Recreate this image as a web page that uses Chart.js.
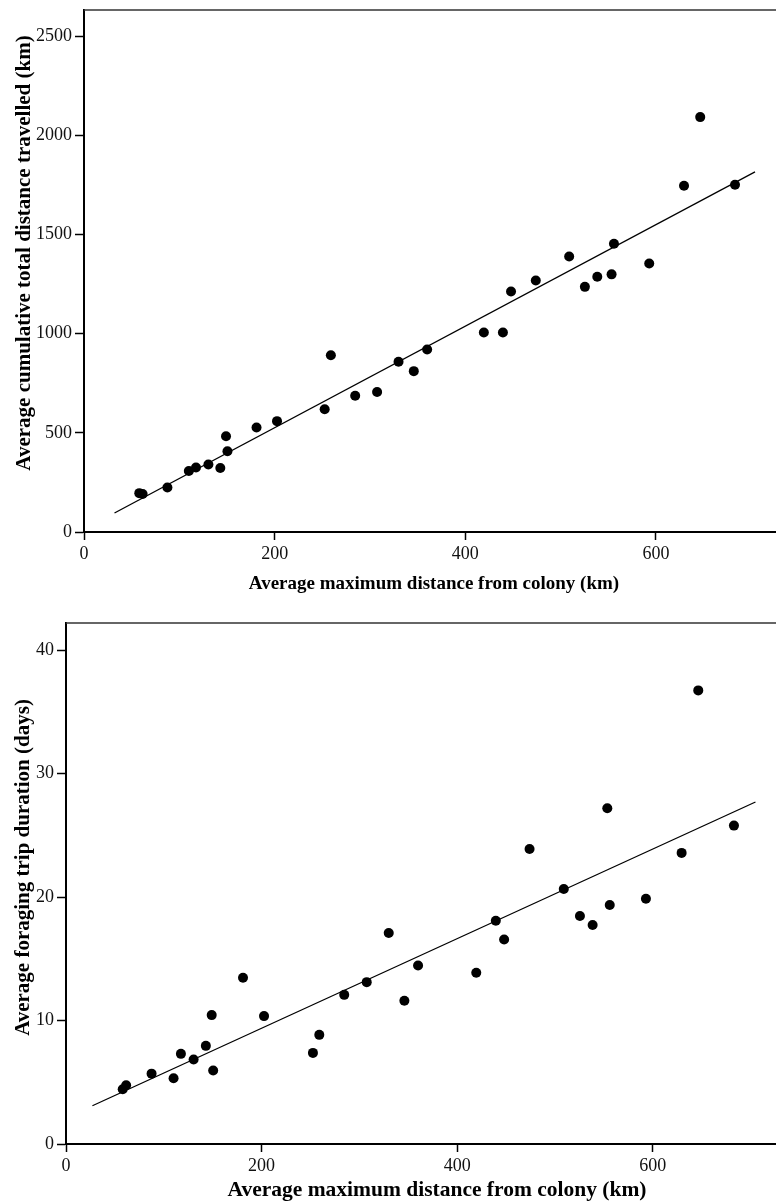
<!DOCTYPE html>
<html>
<head>
<meta charset="utf-8">
<script src="https://cdn.jsdelivr.net/npm/chart.js@4/dist/chart.umd.min.js"></script>
<style>
html,body{margin:0;padding:0;background:#fff;}
#wrap{position:relative;width:776px;height:1204px;overflow:hidden;}
.box{position:absolute;left:0;width:776px;}
</style>
</head>
<body>
<div id="wrap">
  <div class="box" style="top:0;height:600px"><canvas id="c1"></canvas></div>
  <div class="box" style="top:600px;height:604px"><canvas id="c2"></canvas></div>
</div>
<script>
// ---- data ----
const maxDistance = [58, 61.5, 87.5, 110, 117.5, 130.5, 143, 149, 150.5, 181, 202.5, 252.5, 259, 284.5, 307.5, 330, 346, 360, 419.5, 439.5, 448, 474, 509, 525.5, 538.5, 553.5, 556, 593, 629.5, 646.5, 683];
const cumulativeDistance = [196, 192, 224, 308, 325, 340, 323, 483, 407, 527, 559, 619, 891, 687, 706, 858, 811, 920, 1006, 1006, 1213, 1268, 1389, 1236, 1287, 1299, 1453, 1354, 1746, 2092, 1751];
const tripDuration = [4.43, 4.76, 5.70, 5.33, 7.30, 6.84, 7.95, 10.44, 5.95, 13.46, 10.36, 7.38, 8.84, 12.08, 13.11, 17.09, 11.6, 14.46, 13.87, 18.09, 16.57, 23.9, 20.66, 18.47, 17.74, 27.19, 19.36, 19.87, 23.58, 36.74, 25.79];
const fitTopX = [32, 704];
const fitTopY = [96, 1816];
const fitBottomX = [27, 705];
const fitBottomY = [3.1, 27.7];
const xTicks = [0, 200, 400, 600];
const yTicksTop = [0, 500, 1000, 1500, 2000, 2500];
const yTicksBottom = [0, 10, 20, 30, 40];
const xTitle = 'Average maximum distance from colony (km)';
const yTitleTop = 'Average cumulative total distance travelled (km)';
const yTitleBottom = 'Average foraging trip duration (days)';

const FAMILY = '"Liberation Serif", "Times New Roman", Times, serif';

const topBorder = {
  id: 'topBorder',
  afterDraw(chart) {
    const {ctx, chartArea: a} = chart;
    ctx.save();
    ctx.strokeStyle = '#333';
    ctx.lineWidth = 1.5;
    ctx.beginPath();
    ctx.moveTo(a.left, a.top);
    ctx.lineTo(a.right, a.top);
    ctx.stroke();
    ctx.restore();
  }
};

// letter spacing / nudge for axis titles
const titleTweaks = {
  id: 'titleTweaks',
  afterLayout(chart, args, opts) {
    ['x', 'y'].forEach(k => {
      const s = chart.scales[k];
      const t = opts[k];
      if (!s || !t || s._tw) return;
      const orig = s.drawTitle;
      s.drawTitle = function () {
        const ctx = this.ctx;
        ctx.save();
        ctx.letterSpacing = t.spacing + 'px';
        ctx.translate(t.dx, t.dy);
        orig.call(this);
        ctx.restore();
      };
      s._tw = true;
    });
  }
};

function makeChart(id, opt) {
  const pts = maxDistance.map((x, i) => ({x: x, y: opt.ys[i]}));
  const fit = opt.fitX.map((x, i) => ({x: x, y: opt.fitY[i]}));
  return new Chart(document.getElementById(id), {
    type: 'scatter',
    data: {
      datasets: [
        {data: pts, backgroundColor: '#000', borderColor: '#000', borderWidth: 0, pointRadius: 5, pointHoverRadius: 5},
        {data: fit, showLine: true, borderColor: '#000', borderWidth: 1.3, pointRadius: 0, fill: false}
      ]
    },
    options: {
      responsive: true,
      maintainAspectRatio: false,
      animation: false,
      events: [],
      layout: {autoPadding: false, padding: {top: opt.padTop, right: 0, left: 0, bottom: 0}},
      plugins: {
        legend: {display: false}, tooltip: {enabled: false},
        titleTweaks: {x: {spacing: 0, dx: opt.xTitleDx, dy: 0}, y: {spacing: opt.yTitleSpacing, dx: 0, dy: opt.yTitleDy}}
      },
      scales: {
        x: {
          type: 'linear', min: 0, max: 726,
          afterBuildTicks: s => { s.ticks = xTicks.map(v => ({value: v})); },
          afterFit: s => { s.height = opt.xHeight; s.paddingLeft = 0; s.paddingRight = 0; },
          grid: {display: true, drawOnChartArea: false, drawTicks: true, tickLength: 8, tickColor: '#000', tickWidth: 1.5},
          border: {display: true, color: '#000', width: 2},
          ticks: {color: '#111', font: {family: FAMILY, size: 18}, padding: 3, maxRotation: 0, autoSkip: false, callback: v => String(v)},
          title: {display: true, text: xTitle, color: '#000', font: {family: FAMILY, size: opt.xTitleSize, weight: 'bold'}, padding: {top: 0, bottom: opt.xTitlePad}}
        },
        y: {
          type: 'linear', min: 0, max: opt.yMax,
          afterBuildTicks: s => { s.ticks = opt.yTicks.map(v => ({value: v})); },
          afterFit: s => { s.width = opt.yWidth; s.paddingTop = 0; s.paddingBottom = 0; },
          grid: {display: true, drawOnChartArea: false, drawTicks: true, tickLength: 9, tickColor: '#000', tickWidth: 1.5},
          border: {display: true, color: '#000', width: 2},
          ticks: {color: '#111', font: {family: FAMILY, size: 18}, padding: 3, autoSkip: false, callback: v => String(v)},
          title: {display: true, text: opt.yTitle, color: '#000', font: {family: FAMILY, size: opt.yTitleSize, weight: 'bold'}, padding: {top: opt.yTitlePad, bottom: 0}}
        }
      }
    },
    plugins: [topBorder, titleTweaks]
  });
}

makeChart('c1', {
  ys: cumulativeDistance, fitX: fitTopX, fitY: fitTopY,
  yMax: 2632, yTicks: yTicksTop, yTitle: yTitleTop,
  padTop: 10, xHeight: 68, yWidth: 84,
  xTitleSize: 19, xTitlePad: 5, xTitleDx: 4,
  yTitleSize: 21, yTitlePad: 12, yTitleSpacing: 0, yTitleDy: -18
});
makeChart('c2', {
  ys: tripDuration, fitX: fitBottomX, fitY: fitBottomY,
  yMax: 42.2, yTicks: yTicksBottom, yTitle: yTitleBottom,
  padTop: 23, xHeight: 60, yWidth: 66,
  xTitleSize: 21.5, xTitlePad: 1, xTitleDx: 16,
  yTitleSize: 21, yTitlePad: 11, yTitleSpacing: 0, yTitleDy: -16
});
</script>
</body>
</html>
